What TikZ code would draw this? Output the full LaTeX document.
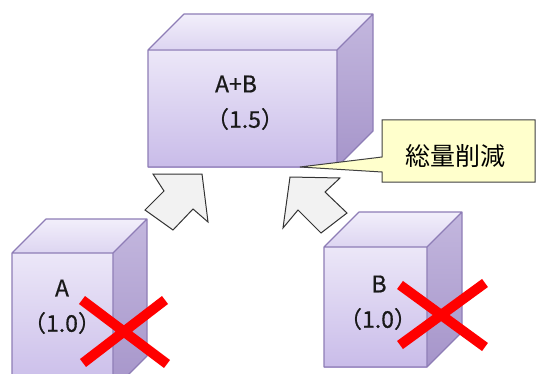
\documentclass[tikz,border=0pt]{standalone}
\usepackage{fontspec}
\setmainfont{Noto Sans CJK JP}
\newfontfamily\lblfont{Noto Sans CJK JP}[FakeBold=0.6]
\definecolor{ftop}{HTML}{ECE7F8}
\definecolor{fbot}{HTML}{C9BCE9}
\definecolor{ttop}{HTML}{F2EFFB}
\definecolor{tbot}{HTML}{DDD5F1}
\definecolor{stop}{HTML}{C3B7DE}
\definecolor{sbot}{HTML}{A695CA}
\definecolor{cedge}{HTML}{8E7DB6}
\definecolor{callfill}{HTML}{FFFFCC}
\definecolor{arrfill}{HTML}{F2F2F2}
\newcommand\mycube[5]{%
  \shade[top color=ttop,bottom color=tbot] ({#1},{#2}) -- ({#1+#5},{#2-#5}) -- ({#3+#5},{#2-#5}) -- ({#3},{#2}) -- cycle;
  \shade[top color=stop,bottom color=sbot] ({#3},{#2}) -- ({#3+#5},{#2-#5}) -- ({#3+#5},{#4-#5}) -- ({#3},{#4}) -- cycle;
  \shade[top color=ftop,bottom color=fbot] ({#1},{#2}) rectangle ({#3},{#4});
  \draw[cubeline] ({#1},{#2}) -- ({#1+#5},{#2-#5}) -- ({#3+#5},{#2-#5}) -- ({#3+#5},{#4-#5}) -- ({#3},{#4}) -- ({#1},{#4}) -- cycle
     ({#1},{#2}) -- ({#3},{#2}) -- ({#3+#5},{#2-#5}) ({#3},{#2}) -- ({#3},{#4});
}
\begin{document}
\begin{tikzpicture}[x=1pt,y=-1pt,
  cubeline/.style={draw=cedge,line width=1.2pt,line join=round},
  lbl/.style={inner sep=0pt,font=\lblfont\fontsize{23}{27}\selectfont,text=black!90},
  cross/.style={draw=red,line width=10pt},
  blockarrow/.style={fill=arrfill,draw=black!80,line width=1pt,line join=miter},
  callout/.style={fill=callfill,draw=black!75,line width=1pt}]
\path[use as bounding box] (0,0) rectangle (537,374);
\clip (0,0) rectangle (537,374);
% cubes
\mycube{148}{50}{337}{167}{36}
\mycube{12}{253}{113}{390}{34}
\mycube{324}{247}{427}{367}{35}
% labels
\node[lbl] (ab) at (236,84) {A+B};
\node[lbl] (ab2) at (245,119) {（1.5）};
\node[lbl] (a) at (62,288) {A};
\node[lbl] (a2) at (62,323) {（1.0）};
\node[lbl] (b) at (379,284) {B};
\node[lbl] (b2) at (378,319) {（1.0）};
% crosses
\coordinate (xa1) at (82,300); \coordinate (xa2) at (167,364);
\coordinate (xa3) at (165,300); \coordinate (xa4) at (83,363);
\draw[cross] (xa1) -- (xa2) (xa3) -- (xa4);
\coordinate (xb1) at (400,285); \coordinate (xb2) at (485,347);
\coordinate (xb3) at (485,283); \coordinate (xb4) at (400,345);
\draw[cross] (xb1) -- (xb2) (xb3) -- (xb4);
% block arrows
\draw[blockarrow] (202,174) -- (153,174) -- (164,191) -- (145,210) -- (173,230) -- (193,209) -- (208,222) -- cycle;
\draw[blockarrow] (290,177) -- (340,178) -- (325,192) -- (347,213) -- (321,233) -- (298,210) -- (283,228) -- cycle;
% callout
\coordinate (tip) at (300,167);
\draw[callout] (382,120) -- (535,120) -- (535,182) -- (382,182) -- (382,172) -- (tip) -- (382,157) -- cycle;
\node[inner sep=0pt,font=\fontsize{25}{28}\selectfont] (cl) at (455,156) {総量削減};
\end{tikzpicture}
\end{document}
